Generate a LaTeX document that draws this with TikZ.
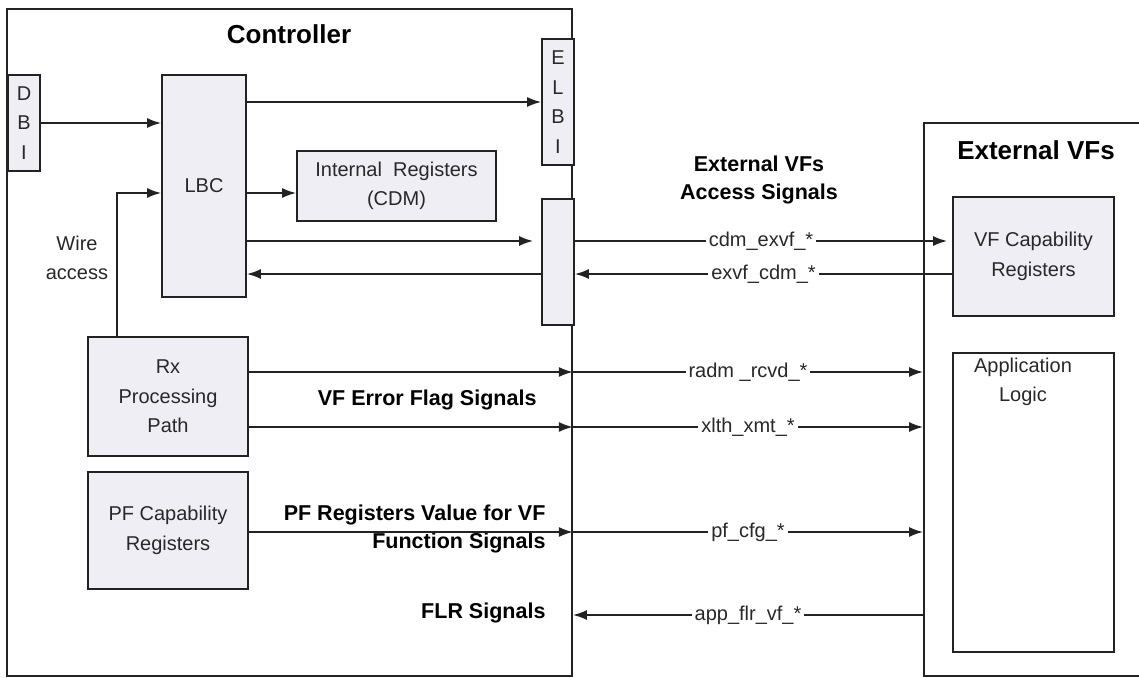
\documentclass[tikz,border=0pt]{standalone}
\usepackage{fontspec}
\setmainfont{Liberation Sans}
\usetikzlibrary{positioning, calc, arrows.meta}

\definecolor{boxfill}{RGB}{239,238,244}
\definecolor{linegray}{RGB}{34,34,34}
\definecolor{textgray}{RGB}{40,40,40}

\begin{document}
\begin{tikzpicture}[
  x=1pt, y=-1pt,
  >=Latex,
  every node/.style={font=\fontsize{20}{29.5}\selectfont, text=textgray},
  frame/.style={rectangle, draw=linegray, line width=1.7pt, inner sep=0pt},
  block/.style={rectangle, draw=linegray, line width=1.7pt, fill=boxfill, align=center, inner sep=0pt},
  heading/.style={font=\fontsize{26}{30}\selectfont\bfseries, text=black},
  signals/.style={font=\fontsize{21.5}{28.5}\selectfont\bfseries, text=black, align=right},
  wire/.style={fill=white, inner xsep=3pt, inner ysep=1pt},
  arrow/.style={-{Latex[length=14pt, width=10pt]}, line width=1.7pt, draw=linegray}
]

\useasboundingbox (0,0) rectangle (1139,677);

%--------------------------------------
% Controller
%--------------------------------------
\node[frame, minimum width=565pt, minimum height=667pt] (ctrl) at (289.5,342.5) {};
\node[heading] (ctrltitle) at (289,34) {Controller};

\node[block, minimum width=32pt, minimum height=96pt] (dbi) at (24,123) {D\\B\\I};
\node[block, minimum width=84pt, minimum height=222pt] (lbc) at (204,186) {LBC};
\node[block, minimum width=32pt, minimum height=126pt] (elbi) at (558,102) {E\\L\\B\\I};
\node[block, minimum width=199pt, minimum height=70pt] (intreg) at (396.5,186) {Internal~~Registers\\(CDM)};
\node[block, minimum width=32pt, minimum height=126pt] (access) at (558,262) {};
\node[block, minimum width=160pt, minimum height=119pt] (rx) at (168,396.5) {Rx\\Processing\\Path};
\node[block, minimum width=160pt, minimum height=117pt] (pfcap) at (168,530.5) {PF Capability\\Registers};

\node[align=center] (wirelbl) at (77,258) {Wire\\access};

%--------------------------------------
% External VFs
%--------------------------------------
\node[frame, minimum width=226pt, minimum height=553pt] (extvf) at (1037,399.5) {};
\node[heading] (extvftitle) at (1036,150) {External VFs};

\node[block, minimum width=161pt, minimum height=119pt] (vfcap) at (1033.5,256.5) {VF Capability\\Registers};
\node[block, fill=white, minimum width=161pt, minimum height=299pt] (applogic) at (1033.5,502.5) {};
\node[align=center] (applabel) at (1023,382) {Application\\Logic};

%--------------------------------------
% Signal group labels
%--------------------------------------
\node[signals, align=center] (accesslbl) at (759,180) {External VFs\\Access Signals};
\node[signals, anchor=east] (errlbl) at (540,400) {VF Error Flag Signals};
\node[signals, anchor=east] (pflbl) at (549,529) {PF Registers Value for VF\\Function Signals};
\node[signals, anchor=east] (flrlbl) at (549,613) {FLR Signals};

% rows of the signal lines
\coordinate (rowA) at (0,241);
\coordinate (rowB) at (0,274);
\coordinate (rowC) at (0,372);
\coordinate (rowD) at (0,427);
\coordinate (rowE) at (0,532);
\coordinate (rowF) at (0,615);
\coordinate (wirebend) at (117,193);

%--------------------------------------
% Arrows inside the controller
%--------------------------------------
\draw[arrow] (dbi.east) -- (dbi.east -| lbc.west);
\draw[arrow] (lbc.east |- elbi.west) -- (elbi.west);
\draw[arrow] (lbc.east |- wirebend) -- (intreg.west |- wirebend);
\draw[arrow] (rx.north -| wirebend) -- (wirebend) -- (wirebend -| lbc.west);
\draw[arrow] (lbc.east |- rowA) -- ($(access.west |- rowA)+(-8,0)$);
\draw[arrow] (access.west |- rowB) -- (lbc.east |- rowB);

\draw[arrow] (rx.east |- rowC) -- (ctrl.east |- rowC);
\draw[arrow] (rx.east |- rowD) -- (ctrl.east |- rowD);
\draw[arrow] (pfcap.east |- rowE) -- (ctrl.east |- rowE);

%--------------------------------------
% Signals between controller and external VFs
%--------------------------------------
\draw[arrow] (access.east |- rowA) -- node[wire]{cdm\_exvf\_*} ($(vfcap.west |- rowA)+(-5,0)$);
\draw[arrow] (vfcap.west |- rowB) -- node[wire]{exvf\_cdm\_*} (access.east |- rowB);
\draw[arrow] (ctrl.east |- rowC) -- node[wire]{radm \_rcvd\_*} (extvf.west |- rowC);
\draw[arrow] (ctrl.east |- rowD) -- node[wire]{xlth\_xmt\_*} (extvf.west |- rowD);
\draw[arrow] (ctrl.east |- rowE) -- node[wire]{pf\_cfg\_*} (extvf.west |- rowE);
\draw[arrow] (extvf.west |- rowF) -- node[wire]{app\_flr\_vf\_*} (ctrl.east |- rowF);

\end{tikzpicture}
\end{document}
